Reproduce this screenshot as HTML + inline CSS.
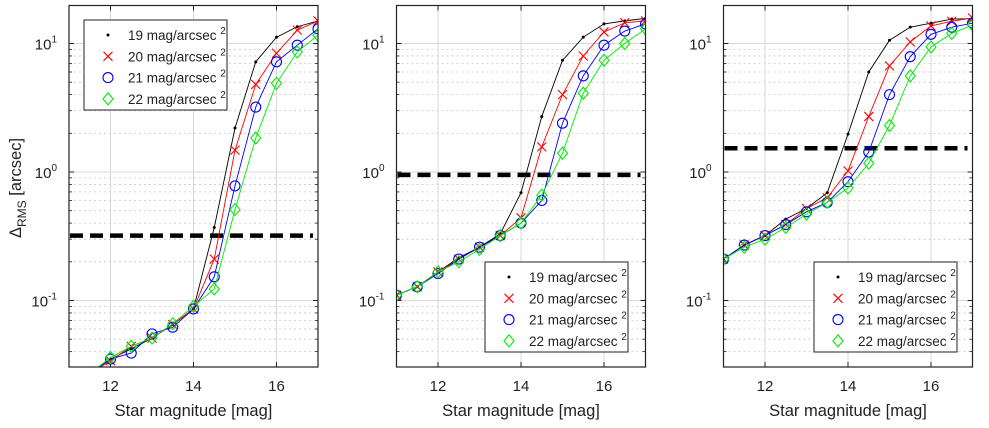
<!DOCTYPE html>
<html><head><meta charset="utf-8"><style>
html,body{margin:0;padding:0;background:#fff;}
svg{display:block;font-family:"Liberation Sans",sans-serif;}
</style></head><body>
<svg id="chart" width="989" height="428" viewBox="0 0 989 428"></svg>
<script>
const magnitudes = [11,11.5,12,12.5,13,13.5,14,14.5,15,15.5,16,16.5,17];
const seriesLabels = ["19 mag/arcsec","20 mag/arcsec","21 mag/arcsec","22 mag/arcsec"];
const xTicks = [12,14,16];
const yTicks = [-1,0,1];
const p1_s19 = [0.022,0.027,0.035,0.042,0.051,0.065,0.086,0.37,2.2,7.2,11.2,13.5,15];
const p1_s20 = [0.022,0.027,0.034,0.044,0.051,0.065,0.086,0.21,1.48,4.8,8.4,12.7,15];
const p1_s21 = [0.022,0.027,0.035,0.039,0.055,0.062,0.086,0.153,0.78,3.2,7.2,9.7,13];
const p1_s22 = [0.022,0.027,0.036,0.044,0.051,0.066,0.09,0.123,0.51,1.84,4.9,8.6,11.6];
const p1_thresh = 0.32;
const p2_s19 = [0.11,0.128,0.167,0.215,0.26,0.33,0.69,2.7,7.4,11.2,14.2,15,15.7];
const p2_s20 = [0.11,0.128,0.167,0.21,0.26,0.32,0.44,1.57,4.0,8.0,12.3,14.5,15];
const p2_s21 = [0.11,0.128,0.162,0.21,0.26,0.32,0.4,0.6,2.4,5.6,9.7,12.5,14.2];
const p2_s22 = [0.11,0.128,0.167,0.2,0.25,0.32,0.4,0.66,1.4,4.1,7.4,10,13];
const p2_thresh = 0.95;
const p3_s19 = [0.21,0.27,0.32,0.43,0.52,0.69,1.97,6.0,10.6,13.4,14.4,15.5,15.6];
const p3_s20 = [0.21,0.27,0.32,0.39,0.52,0.63,1.02,2.7,6.7,10.3,13.7,14.9,15.8];
const p3_s21 = [0.21,0.27,0.32,0.39,0.49,0.58,0.84,1.43,4.0,7.9,11.8,13.4,14.4];
const p3_s22 = [0.21,0.26,0.3,0.37,0.47,0.58,0.75,1.17,2.3,5.6,9.4,12,13.9];
const p3_thresh = 1.53;

const NS="http://www.w3.org/2000/svg";
const svg=document.getElementById('chart');
function mk(tag,attrs,parent){const e=document.createElementNS(NS,tag);for(const k in attrs)e.setAttribute(k,attrs[k]);(parent||svg).appendChild(e);return e;}
const colors=["#000","#f00","#00f","#0e0"];
const panels=[
 {left:69,right:318,series:[p1_s19,p1_s20,p1_s21,p1_s22],th:p1_thresh,leg:{x:84,y:20},ylab:true},
 {left:396.5,right:645.5,series:[p2_s19,p2_s20,p2_s21,p2_s22],th:p2_thresh,leg:{x:485,y:262}},
 {left:723.5,right:972.5,series:[p3_s19,p3_s20,p3_s21,p3_s22],th:p3_thresh,leg:{x:814,y:262}}
];
const plotTop=5.5,plotBottom=367;
function yS(v){return 172-128.5*Math.log10(v);}
function marker(g,k,x,y){
  const c=colors[k];
  if(k===0){const m=mk('circle',{cx:x,cy:y,r:1.5,fill:c},g);}
  else if(k===1){const m=mk('path',{d:`M${x-4.5},${y-4.5}L${x+4.5},${y+4.5}M${x-4.5},${y+4.5}L${x+4.5},${y-4.5}`,stroke:c,'stroke-width':1.1,fill:'none'},g);}
  else if(k===2){const m=mk('circle',{cx:x,cy:y,r:5,stroke:c,'stroke-width':1.1,fill:'none'},g);}
  else {const m=mk('path',{d:`M${x},${y-6}L${x+5},${y}L${x},${y+6}L${x-5},${y}Z`,stroke:c,'stroke-width':1.1,fill:'none'},g);}
}
panels.forEach((p,pi)=>{
  const xS=v=>p.left+(v-11)*(p.right-p.left)/6;
  const g=mk('g',{});
  
  
  const cid='clip'+pi;
  const cp=mk('clipPath',{id:cid},g);mk('rect',{x:p.left,y:plotTop,width:p.right-p.left,height:plotBottom-plotTop},cp);
  for(let d=-2;d<=1;d++){for(let m=2;m<=9;m++){const v=m*Math.pow(10,d);const y=yS(v);if(y<plotTop||y>plotBottom)continue;
    const l=mk('line',{x1:p.left,x2:p.right,y1:y,y2:y,stroke:'#c8c8c8','stroke-width':0.8,'stroke-dasharray':'2,3'},g);
    
    mk('line',{x1:p.left,x2:p.left+3,y1:y,y2:y,stroke:'#222','stroke-width':0.8},g);
    mk('line',{x1:p.right,x2:p.right-3,y1:y,y2:y,stroke:'#222','stroke-width':0.8},g);}}
  yTicks.forEach(e=>{const y=yS(Math.pow(10,e));
    const l=mk('line',{x1:p.left,x2:p.right,y1:y,y2:y,stroke:'#d8d8d8','stroke-width':1},g);
    
    mk('line',{x1:p.left,x2:p.left+5,y1:y,y2:y,stroke:'#222'},g);
    mk('line',{x1:p.right,x2:p.right-5,y1:y,y2:y,stroke:'#222'},g);
    const t=mk('text',{x:p.left-12,y:y+6,'font-size':15,'text-anchor':'end',fill:'#222'},g);
    
    t.appendChild(document.createTextNode('10'));
    const s=mk('tspan',{dy:-7,'font-size':10},t);s.textContent=String(e);
  });
  xTicks.forEach(v=>{const x=xS(v);
    const l=mk('line',{x1:x,x2:x,y1:plotTop,y2:plotBottom,stroke:'#d8d8d8'},g);
    
    mk('line',{x1:x,x2:x,y1:plotBottom,y2:plotBottom-5,stroke:'#222'},g);
    mk('line',{x1:x,x2:x,y1:plotTop,y2:plotTop+5,stroke:'#222'},g);
    const t=mk('text',{x:x,y:391,'font-size':15,'text-anchor':'middle',fill:'#222'},g);
    t.textContent=v;
  });
  const th=mk('line',{x1:p.left+1,x2:p.right-5,y1:yS(p.th),y2:yS(p.th),stroke:'#000','stroke-width':4.5,'stroke-dasharray':'13,7'},g);
  
  const cg=mk('g',{'clip-path':`url(#${cid})`},g);
  p.series.forEach((arr,k)=>{
    const pts=arr.map((v,i)=>xS(magnitudes[i])+','+yS(v)).join(' ');
    const pl=mk('polyline',{points:pts,fill:'none',stroke:colors[k],'stroke-width':0.9},cg);
    
    arr.forEach((v,i)=>marker(cg,k,xS(magnitudes[i]),yS(v)));
  });
  const fr=mk('rect',{x:p.left,y:plotTop,width:p.right-p.left,height:plotBottom-plotTop,fill:'none',stroke:'#222','stroke-width':1.2},g);
  
  const lg=mk('g',{},g);
  mk('rect',{x:p.leg.x,y:p.leg.y,width:143,height:90,fill:'#fff',stroke:'#222','stroke-width':1},lg);
  seriesLabels.forEach((s,k)=>{const y=p.leg.y+15+k*21.3;
    const eg=mk('g',{},lg);
    marker(eg,k,p.leg.x+24,y);
    const t=mk('text',{x:p.leg.x+44,y:y+5,'font-size':13.5,fill:'#222'},eg);
    t.appendChild(document.createTextNode(s+' '));const sp=mk('tspan',{dy:-6,'font-size':10},t);sp.textContent='2';
  });
  const xl=mk('text',{x:(p.left+p.right)/2,y:416,'font-size':16.5,'text-anchor':'middle',fill:'#222'},g);
  xl.textContent='Star magnitude [mag]';
  if(p.ylab){
    const yl=mk('text',{transform:'translate(21,188) rotate(-90)','font-size':16.5,'text-anchor':'middle',fill:'#222'},g);
    
    yl.appendChild(document.createTextNode('Δ'));
    const s1=mk('tspan',{dy:5,'font-size':12},yl);s1.textContent='RMS';
    const s2=mk('tspan',{dy:-5},yl);s2.textContent=' [arcsec]';
  }
});
</script>
</body></html>
